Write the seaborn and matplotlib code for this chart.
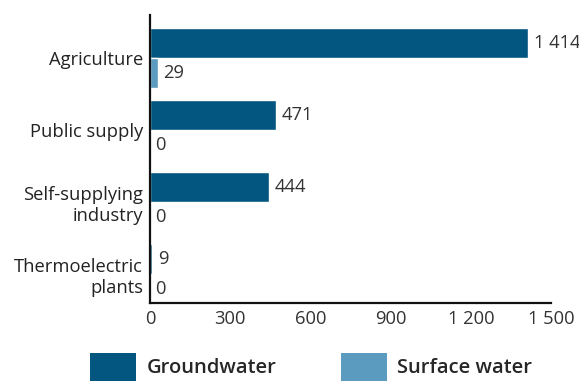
import matplotlib
matplotlib.use("Agg")
import matplotlib.pyplot as plt
import seaborn as sns
import pandas as pd
from matplotlib.patches import Patch

categories = ["Agriculture", "Public supply", "Self-supplying\nindustry", "Thermoelectric\nplants"]
groundwater = [1414, 471, 444, 9]
surface_water = [29, 0, 0, 0]
series_names = ["Groundwater", "Surface water"]
colors = ["#03567f", "#5a9bbf"]
xticks = [0, 300, 600, 900, 1200, 1500]

df = pd.DataFrame({
    "category": categories * 2,
    "value": groundwater + surface_water,
    "series": [series_names[0]] * 4 + [series_names[1]] * 4,
})

sns.set_style("white")
plt.rcParams["font.family"] = ["Open Sans", "DejaVu Sans"]
FS = 13.2

fig = plt.figure(figsize=(5.79, 3.81), dpi=100)
ax = fig.add_axes([0.259, 0.205, 0.693, 0.756])

sns.barplot(data=df, y="category", x="value", hue="series", palette=colors,
            orient="h", width=0.84, ax=ax, legend=False, saturation=1)

def fmt(v):
    return f"{int(round(v)):,}".replace(",", " ")

for cont in ax.containers:
    ax.bar_label(cont, labels=[fmt(b.get_width()) for b in cont], padding=4,
                 fontsize=FS, color="#333333")

ax.set_xlim(0, 1500)
ax.set_ylim(3.4, -0.6)
ax.set_xticks(xticks)
ax.set_xticklabels([fmt(t) for t in xticks], fontsize=FS, color="#333333")
ax.tick_params(axis="x", direction="in", length=5, width=1.5, color="#111111", pad=5)
ax.tick_params(axis="y", length=0, labelsize=FS, labelcolor="#222222", pad=5)
ax.set_xlabel("")
ax.set_ylabel("")
for s in ["top", "right"]:
    ax.spines[s].set_visible(False)
for s in ["left", "bottom"]:
    ax.spines[s].set_color("#111111")
    ax.spines[s].set_linewidth(1.6)

handles = [Patch(facecolor=c, edgecolor="none") for c in colors]
fig.legend(handles, series_names, loc="lower left", bbox_to_anchor=(90 / 579, 0.0),
           ncol=2, frameon=False, handlelength=2.3, handleheight=1.8,
           columnspacing=3.2, handletextpad=0.5, borderpad=0, borderaxespad=0,
           prop={"size": 14.5, "weight": "semibold", "family": ["Open Sans", "DejaVu Sans"]})

fig.savefig("out.png", dpi=100)
